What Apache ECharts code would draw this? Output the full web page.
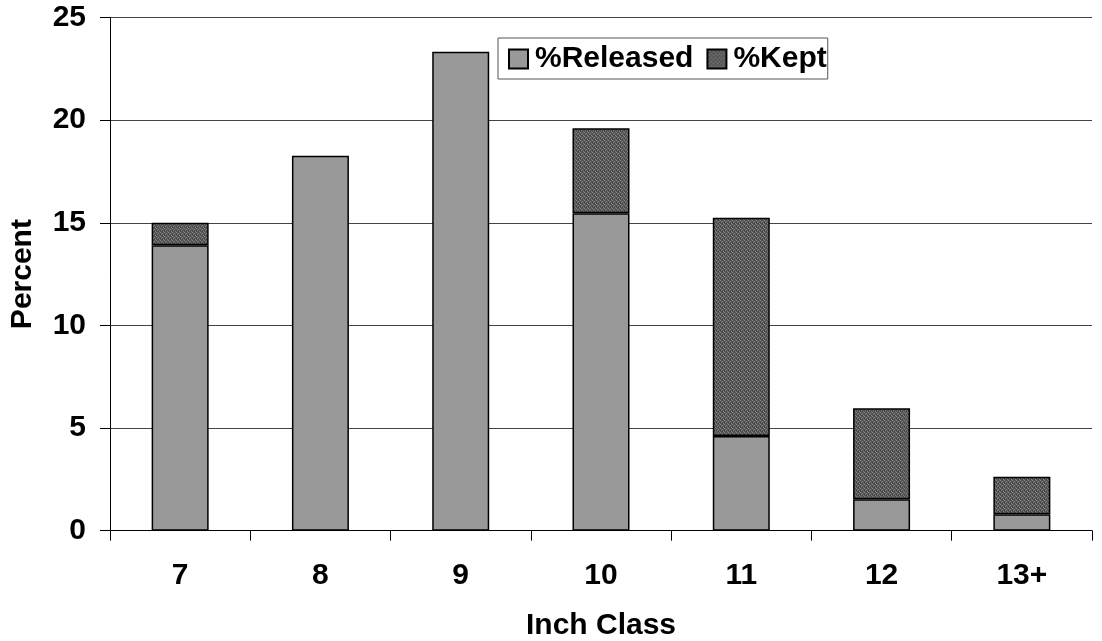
<!DOCTYPE html>
<html>
<head>
<meta charset="utf-8">
<script src="https://cdn.jsdelivr.net/npm/echarts@6/dist/echarts.min.js"></script>
<style>
html,body{margin:0;padding:0;background:#fff;}
#chart{width:1102px;height:641px;}
</style>
</head>
<body>
<div id="chart"></div>
<script>
const categories = ['7', '8', '9', '10', '11', '12', '13+'];
const released = [13.9, 18.27, 23.33, 15.46, 4.61, 1.53, 0.8];
const kept = [1.1, 0, 0, 4.14, 10.64, 4.43, 1.83];
const seriesNames = ['%Released', '%Kept'];
const yTicks = { min: 0, max: 25, interval: 5 };

const FONT = 'Arial, "Liberation Sans", sans-serif';
const FS = 30;

// dithered dark pattern for "%Kept"
const pc = document.createElement('canvas');
pc.width = 4; pc.height = 4;
const px = pc.getContext('2d');
px.fillStyle = '#565656';
px.fillRect(0, 0, 4, 4);
px.fillStyle = '#838383';
[[0,0],[2,1],[1,2],[3,3]].forEach(([x,y]) => px.fillRect(x, y, 1, 1));
px.fillStyle = '#3e3e3e';
[[2,3],[0,2]].forEach(([x,y]) => px.fillRect(x, y, 1, 1));
const keptPattern = { image: pc, repeat: 'repeat' };

// zero-height segments are not drawn
const noZero = arr => arr.map(v => (v === 0 ? '-' : v));

const chart = echarts.init(document.getElementById('chart'), null, { renderer: 'canvas' });
chart.setOption({
  animation: false,
  backgroundColor: '#ffffff',
  grid: { left: 110, right: 10, top: 17.5, bottom: 110.3, containLabel: false, outerBoundsMode: 'none' },
  legend: {
    left: 498, top: 38,
    padding: [6, 1, 5, 10],
    itemGap: 13,
    itemWidth: 19, itemHeight: 19,
    borderColor: '#555', borderWidth: 1,
    backgroundColor: '#fff',
    textStyle: { fontFamily: FONT, fontWeight: 'bold', fontSize: FS, color: '#000', padding: [0, 0, 0, 2] },
    data: seriesNames.map(n => ({ name: n, icon: 'rect' }))
  },
  xAxis: {
    type: 'category',
    data: categories,
    name: 'Inch Class',
    nameLocation: 'middle',
    nameGap: 80,
    nameTextStyle: { fontFamily: FONT, fontWeight: 'bold', fontSize: FS, color: '#000' },
    axisLine: { lineStyle: { color: '#000', width: 1 } },
    axisTick: { show: true, length: 10, lineStyle: { color: '#000' } },
    axisLabel: { fontFamily: FONT, fontWeight: 'bold', fontSize: FS, color: '#000', margin: 30 },
    splitLine: { show: false }
  },
  yAxis: {
    type: 'value',
    min: yTicks.min, max: yTicks.max, interval: yTicks.interval,
    name: 'Percent',
    nameLocation: 'middle',
    nameGap: 72,
    nameTextStyle: { fontFamily: FONT, fontWeight: 'bold', fontSize: FS, color: '#000' },
    axisLine: { show: true, lineStyle: { color: '#000', width: 1 } },
    axisTick: { show: true, length: 10, lineStyle: { color: '#000' } },
    axisLabel: { fontFamily: FONT, fontWeight: 'bold', fontSize: FS, color: '#000', margin: 24 },
    splitLine: { show: true, lineStyle: { color: '#444', width: 1 } }
  },
  series: [
    {
      name: seriesNames[0], type: 'bar', stack: 'total', data: noZero(released), barWidth: 57,
      itemStyle: { color: '#999999', borderColor: '#000', borderWidth: 1.5 }
    },
    {
      name: seriesNames[1], type: 'bar', stack: 'total', data: noZero(kept), barWidth: 57,
      itemStyle: { color: keptPattern, borderColor: '#000', borderWidth: 1.5 }
    }
  ]
});
</script>
</body>
</html>
